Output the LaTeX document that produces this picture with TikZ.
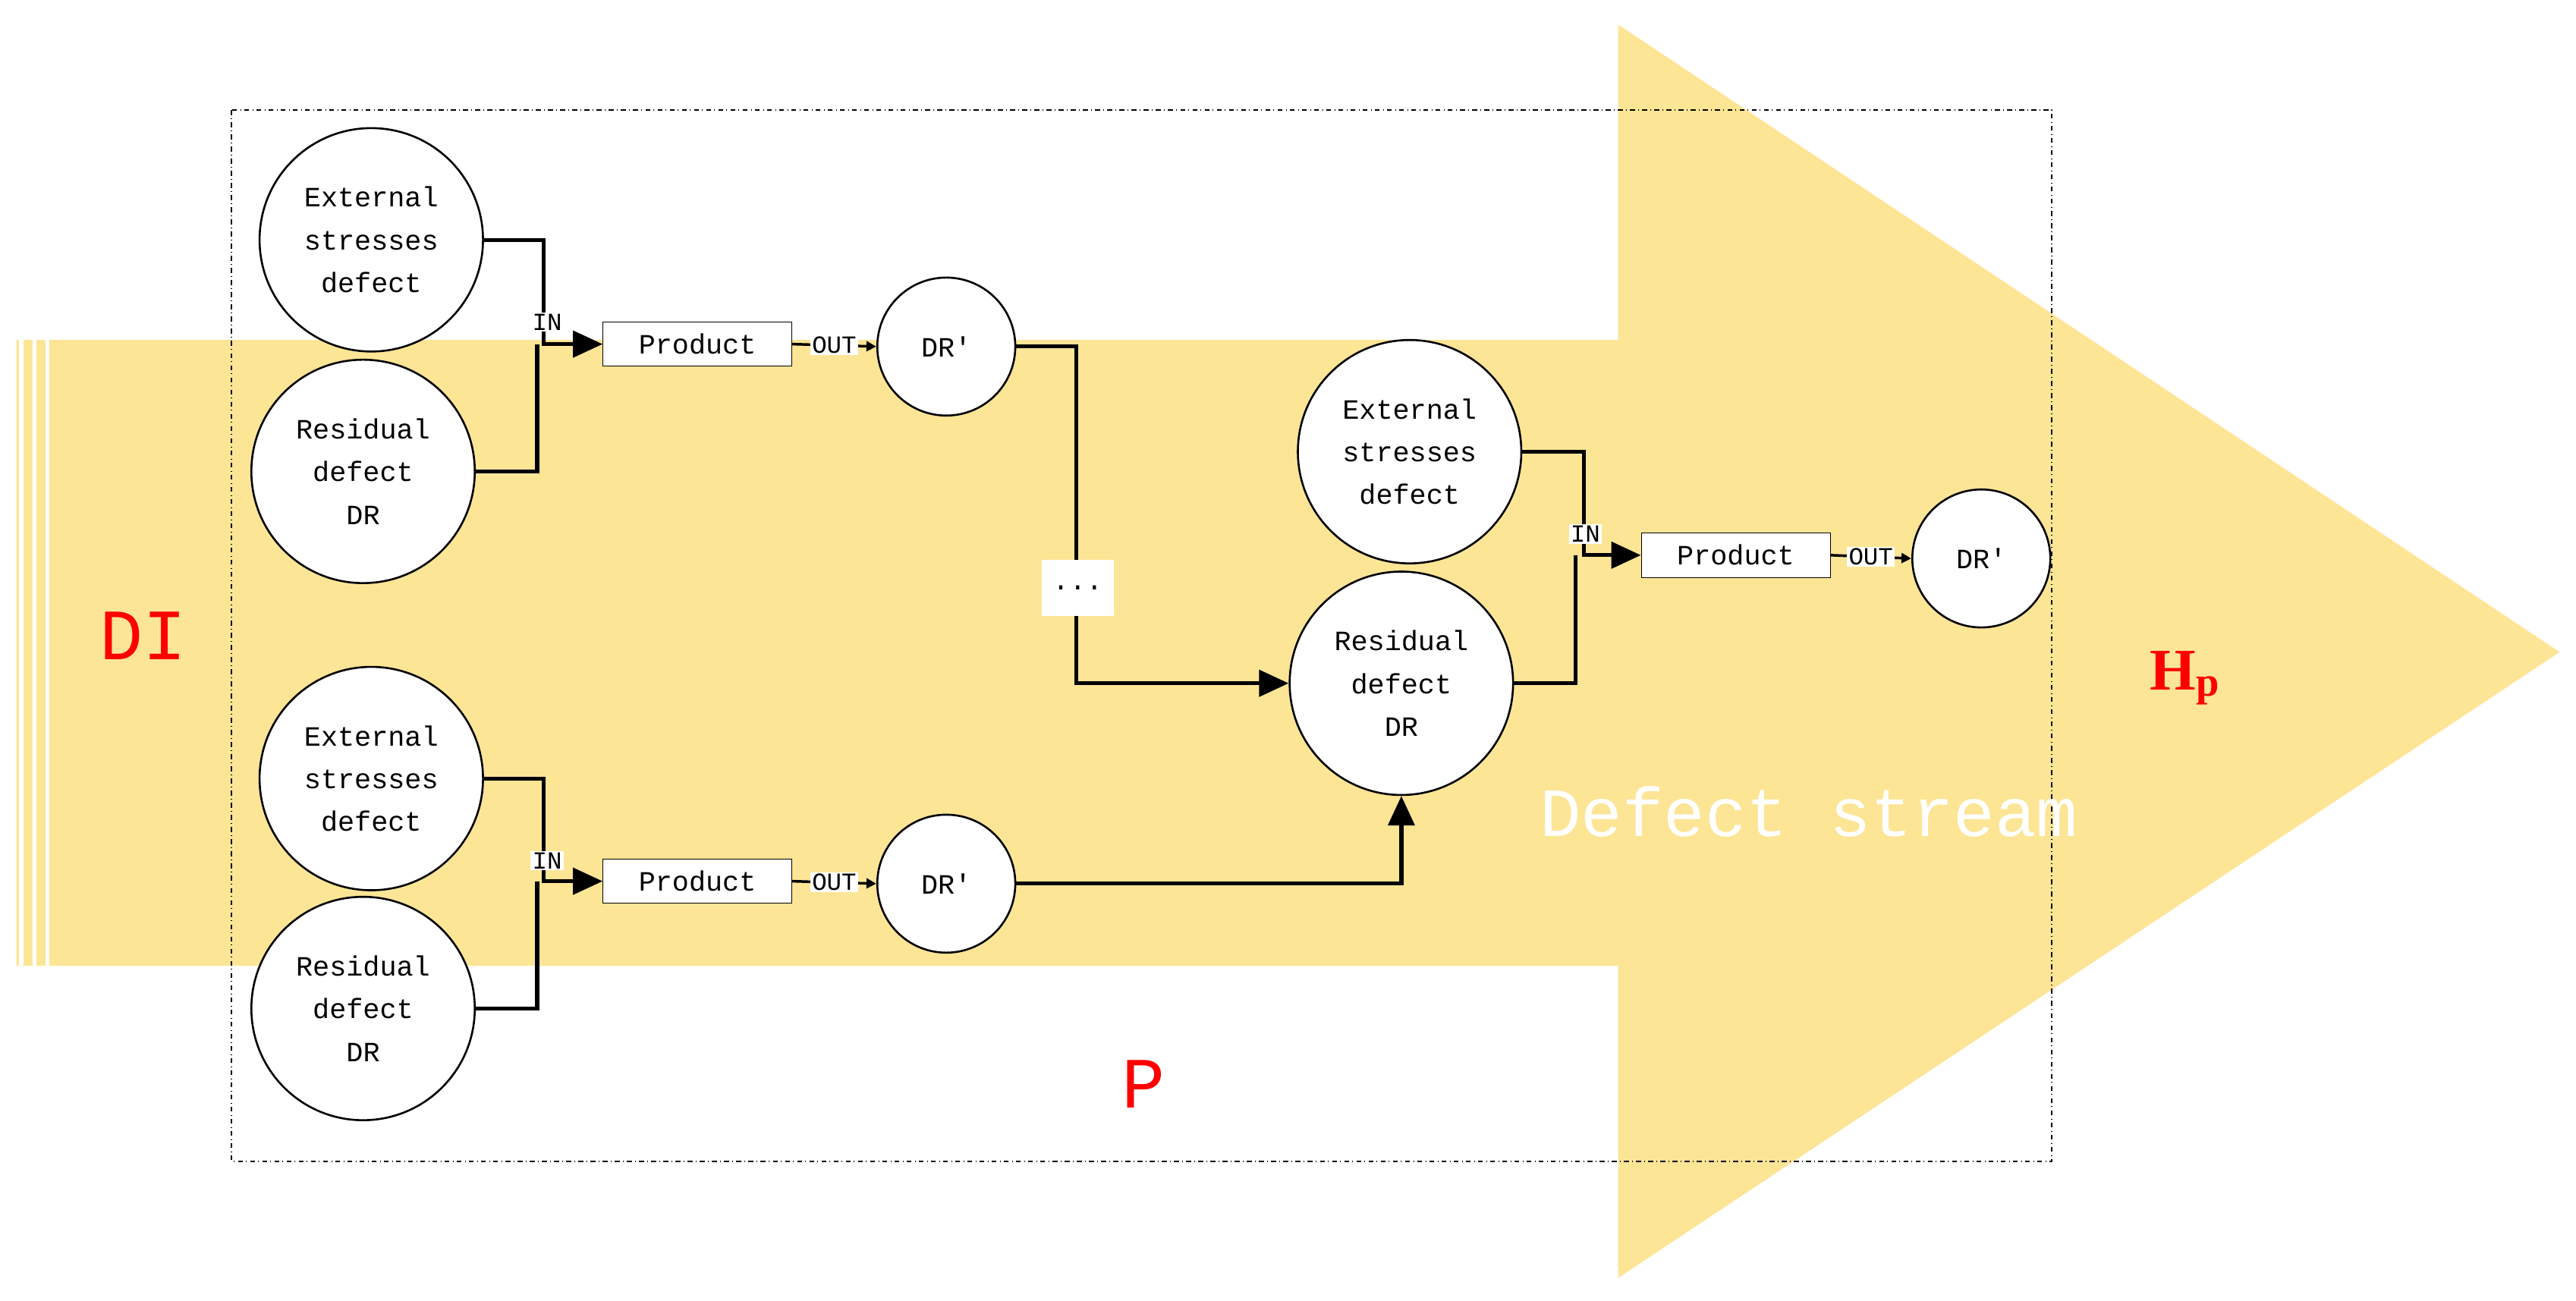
\documentclass[tikz,border=0pt]{standalone}
\usepackage{fontspec}
\setmainfont{Liberation Serif}
\newfontfamily\monof{Liberation Mono}
\usetikzlibrary{arrows.meta}
\definecolor{arrowy}{RGB}{253,229,150}
\begin{document}
\begin{tikzpicture}[x=1pt,y=-1pt,
 circ/.style={draw,circle,line width=1.2pt,fill=white,align=center,font=\monof\fontsize{17}{26}\selectfont,inner sep=0pt},
 big/.style={circ,minimum size=136pt},
 small/.style={circ,minimum size=84pt},
 prod/.style={draw,fill=white,minimum width=115pt,minimum height=27pt,inner sep=0pt,font=\monof\fontsize{17}{19}\selectfont},
 lab/.style={fill=white,inner sep=1pt,font=\monof\fontsize{15}{16}\selectfont},
 con/.style={line width=2.4pt},
 arr/.style={con,-{Triangle[length=18pt,width=16pt]}},
 sarr/.style={line width=1.6pt,-{Triangle[length=6pt,width=6pt]}}]
\useasboundingbox (0,0) rectangle (1568,792);
\fill[white] (0,0) rectangle (1568,792);
\fill[arrowy] (10,207) -- (985,207) -- (985,15) -- (1558,397) -- (985,778) -- (985,588) -- (10,588) -- cycle;
\foreach \x in {13,21,29} \draw[white,line width=2.5pt] (\x,207) -- (\x,588);
\draw[dash dot,line width=0.8pt] (141,67) rectangle (1249,707);
\node[big] (e1) at (226,146) {External\\stresses\\defect};
\node[big] (r1) at (221,287) {Residual\\defect\\DR};
\node[prod] (p1) at (424.5,209.5) {Product};
\node[small] (d1) at (576,211) {DR'};
\node[big] (e2) at (226,474) {External\\stresses\\defect};
\node[big] (r2) at (221,614) {Residual\\defect\\DR};
\node[prod] (p2) at (424.5,536.5) {Product};
\node[small] (d2) at (576,538) {DR'};
\node[big] (e3) at (858,275) {External\\stresses\\defect};
\node[big] (r3) at (853,416) {Residual\\defect\\DR};
\node[prod] (p3) at (1056.5,338) {Product};
\node[small] (d3) at (1206,340) {DR'};
\draw[con] (e1.east) -| (331,180);
\draw[arr] (331,180) -- (331,209.5) -- (p1.west);
\draw[con] (r1.east) -| (327,209.5);
\draw[con] (e2.east) -| (331,510);
\draw[arr] (331,510) -- (331,536.5) -- (p2.west);
\draw[con] (r2.east) -| (327,536.5);
\draw[con] (e3.east) -| (964,310);
\draw[arr] (964,310) -- (964,338) -- (p3.west);
\draw[con] (r3.east) -| (959,338);
\node[lab] at (333,196) {IN};
\node[lab] at (333,524) {IN};
\node[lab] at (965,325) {IN};
\draw[sarr] (p1.east) -- (d1.west) node[lab,midway] {OUT};
\draw[sarr] (p2.east) -- (d2.west) node[lab,midway] {OUT};
\draw[sarr] (p3.east) -- (d3.west) node[lab,midway] {OUT};
\draw[arr] (d1.east) -| (655,300) |- (r3.west);
\node[fill=white,minimum width=44pt,minimum height=34pt,font=\monof\fontsize{17}{19}\selectfont] (dots) at (656,358) {...};
\draw[arr] (d2.east) -| (r3.south);
\node[red,font=\monof\fontsize{44}{46}\selectfont] (di) at (87,387) {DI};
\node[red,font=\monof\fontsize{44}{46}\selectfont] (pp) at (696,660) {P};
\node[red,font=\bfseries\fontsize{36}{38}\selectfont] (hp) at (1330,413) {H$_{\mathbf{p}}$};
\node[white,font=\monof\fontsize{42}{44}\selectfont] (ds) at (1101,494) {Defect stream};
\end{tikzpicture}
\end{document}
